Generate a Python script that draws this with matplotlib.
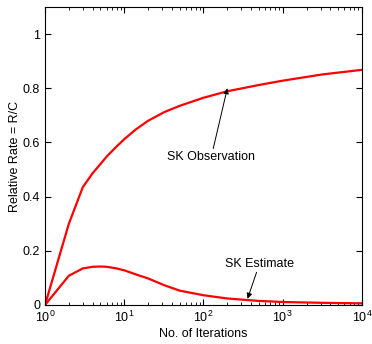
import matplotlib
matplotlib.use('Agg')
import matplotlib.pyplot as plt
from matplotlib.ticker import FormatStrFormatter, LogLocator

plt.rcParams['font.family'] = ['Liberation Sans', 'DejaVu Sans']
plt.rcParams['mathtext.default'] = 'regular'

# Data
iterations = [1, 2, 3, 4, 5, 6, 8, 10, 14, 20, 32, 50, 100, 200, 500, 1000, 3162, 10000]
sk_observation = [0, 0.30, 0.435, 0.487, 0.52, 0.548, 0.585, 0.612, 0.648, 0.68, 0.712,
                  0.735, 0.765, 0.789, 0.812, 0.828, 0.851, 0.868]
sk_estimate = [0, 0.108, 0.135, 0.141, 0.142, 0.141, 0.135, 0.128, 0.113, 0.098, 0.073,
               0.053, 0.036, 0.024, 0.015, 0.011, 0.008, 0.006]
y_ticks = [0, 0.2, 0.4, 0.6, 0.8, 1]

fig = plt.figure(figsize=(3.72, 3.44), dpi=100)
ax = fig.add_axes([0.121, 0.1134, 0.852, 0.8663])

ax.plot(iterations, sk_observation, color='red', lw=1.6)
ax.plot(iterations, sk_estimate, color='red', lw=1.6)

ax.set_xscale('log')
ax.set_xlim(1, 1e4)
ax.set_ylim(0, 1.1)
ax.set_yticks(y_ticks)
ax.yaxis.set_major_formatter(FormatStrFormatter('%g'))
ax.xaxis.set_minor_locator(LogLocator(base=10, subs=range(2, 10), numticks=20))

ax.tick_params(which='both', direction='in', top=True, right=True, labelsize=9)
ax.tick_params(which='major', length=4)
ax.tick_params(which='minor', length=2)

ax.set_xlabel('No. of Iterations', fontsize=9, labelpad=2)
ax.set_ylabel('Relative Rate = R/C', fontsize=9, labelpad=1)

ax.annotate('SK Observation', xy=(200, 0.80), xytext=(125, 0.545),
            ha='center', va='center', fontsize=9,
            arrowprops=dict(arrowstyle='-|>', color='black', lw=0.7,
                            mutation_scale=8, shrinkA=0, shrinkB=0))
ax.annotate('SK Estimate', xy=(360, 0.023), xytext=(510, 0.153),
            ha='center', va='center', fontsize=9,
            arrowprops=dict(arrowstyle='-|>', color='black', lw=0.7,
                            mutation_scale=8, shrinkA=0, shrinkB=0))

fig.savefig('out.png', dpi=100)
